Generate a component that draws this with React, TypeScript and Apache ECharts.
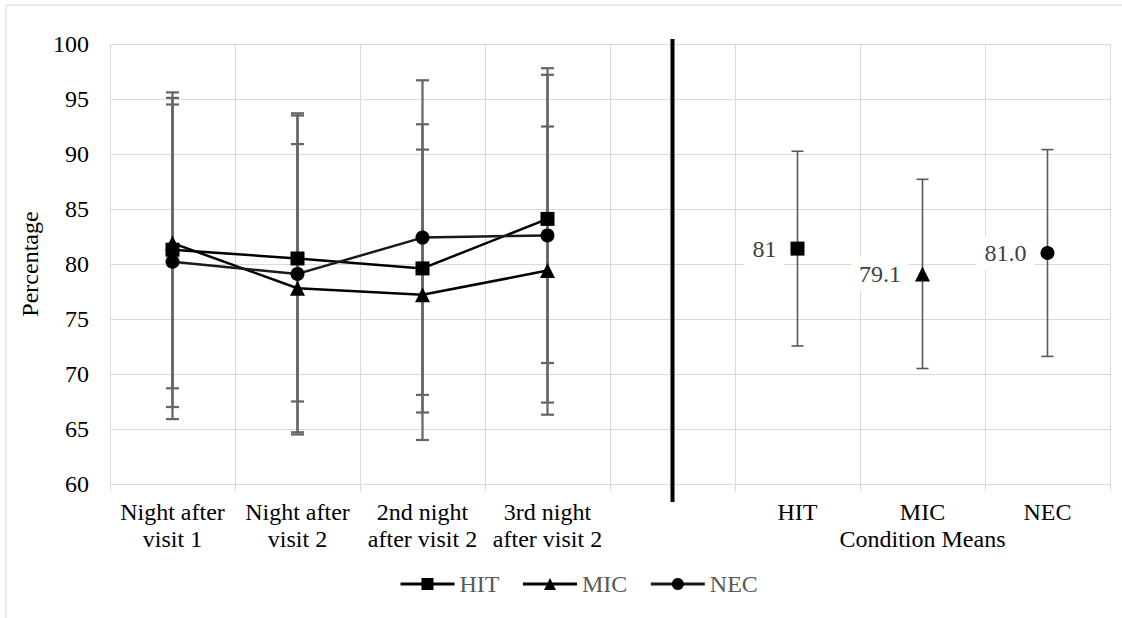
import React, { useEffect, useRef } from "react";
import * as echarts from "echarts";

// ---- data ----
const nightCategories = [
  "Night after\nvisit 1",
  "Night after\nvisit 2",
  "2nd night\nafter visit 2",
  "3rd night\nafter visit 2",
];
const conditionCategories = ["HIT", "MIC", "NEC"];
const seriesNames = ["HIT", "MIC", "NEC"];
const conditionAxisTitle = "Condition Means";

const hitNights = [81.3, 80.5, 79.6, 84.1];
const micNights = [81.9, 77.8, 77.2, 79.4];
const necNights = [80.2, 79.1, 82.4, 82.6];

const hitNightErr = [14.3, 13.0, 13.1, 13.1];
const micNightErr = [13.2, 13.1, 13.2, 13.1];
const necNightErr = [14.3, 14.6, 14.3, 15.2];

const conditionMeans = [81.4, 79.1, 81.0];
const conditionErr = [8.85, 8.6, 9.4];
const conditionLabels = ["81", "79.1", "81.0"];

const yTicks = [60, 65, 70, 75, 80, 85, 90, 95, 100];

const FONT = "'Liberation Serif', 'Times New Roman', serif";

export default function App() {
  const ref = useRef<HTMLDivElement>(null);

  useEffect(() => {
    if (!ref.current) return;
    const chart = echarts.init(ref.current, undefined, { renderer: "svg" });

    const categories = [...nightCategories, "", ...conditionCategories];
    const dividerIdx = nightCategories.length;
    const nights = [hitNights, micNights, necNights];
    const nightErrs = [hitNightErr, micNightErr, necNightErr];
    const symbols = ["rect", "triangle", "circle"];
    const symbolSizes = [14, 15, 14];
    const lineColors = ["#000000", "#000000", "#1a1a1a"];

    const lineSeries = seriesNames.map((name, s) => {
      const data: any[] = categories.map(() => null);
      nights[s].forEach((v, i) => (data[i] = v));
      const ci = dividerIdx + 1 + conditionCategories.indexOf(name);
      data[ci] = {
        value: conditionMeans[s],
        label: {
          show: true,
          position: "left",
          distance: 6,
          formatter: conditionLabels[s],
          backgroundColor: "#ffffff",
          padding: [5, 8, 5, 8],
          color: "#404040",
          fontSize: 24,
          fontFamily: FONT,
        },
      };
      return {
        name,
        type: "line",
        data,
        z: 5,
        symbol: symbols[s],
        symbolSize: symbolSizes[s],
        showSymbol: true,
        showAllSymbol: true,
        connectNulls: false,
        lineStyle: { color: lineColors[s], width: 2.5 },
        itemStyle: { color: "#000000" },
        emphasis: { disabled: true },
      };
    });

    const leftErrData: number[][] = [];
    nights.forEach((arr, s) =>
      arr.forEach((v, i) => leftErrData.push([i, v - nightErrs[s][i], v + nightErrs[s][i]]))
    );
    const rightErrData: number[][] = conditionMeans.map((m, k) => [
      dividerIdx + 1 + k,
      m - conditionErr[k],
      m + conditionErr[k],
    ]);

    const makeErr = (data: number[][], lw: number, color: string, hw: number) => ({
      type: "custom",
      z: 2,
      silent: true,
      encode: { x: 0, y: [1, 2] },
      data,
      renderItem: (params: any, api: any) => {
        const x = api.value(0);
        const lo = api.coord([x, api.value(1)]);
        const hi = api.coord([x, api.value(2)]);
        const style = { stroke: color, lineWidth: lw };
        return {
          type: "group",
          children: [
            { type: "line", shape: { x1: lo[0], y1: lo[1], x2: hi[0], y2: hi[1] }, style },
            { type: "line", shape: { x1: lo[0] - hw, y1: lo[1], x2: lo[0] + hw, y2: lo[1] }, style },
            { type: "line", shape: { x1: hi[0] - hw, y1: hi[1], x2: hi[0] + hw, y2: hi[1] }, style },
          ],
        };
      },
    });

    const dividerSeries = {
      type: "custom",
      z: 3,
      silent: true,
      clip: false,
      encode: { x: 0, y: 1 },
      data: [[dividerIdx, yTicks[yTicks.length - 1], yTicks[0]]],
      renderItem: (params: any, api: any) => {
        const x = api.value(0);
        const top = api.coord([x, api.value(1)]);
        const bot = api.coord([x, api.value(2)]);
        return {
          type: "line",
          shape: { x1: top[0], y1: top[1] - 5, x2: bot[0], y2: bot[1] + 18 },
          style: { stroke: "#000000", lineWidth: 4 },
        };
      },
    };

    chart.setOption({
      animation: false,
      backgroundColor: "#ffffff",
      textStyle: { fontFamily: FONT },
      graphic: [
        {
          type: "rect",
          shape: { x: 6, y: 5, width: 1120, height: 640 },
          style: { fill: "none", stroke: "#d9d9d9", lineWidth: 1 },
          silent: true,
        },
      ],
      grid: { left: 110, right: 12, top: 44, bottom: 134 },
      legend: {
        data: seriesNames,
        left: 394,
        top: 567,
        itemGap: 22,
        itemWidth: 54,
        itemHeight: 15,
        lineStyle: { width: 3 },
        textStyle: { fontSize: 24, color: "#595959", fontFamily: FONT },
      },
      xAxis: {
        type: "category",
        data: categories,
        boundaryGap: true,
        axisLine: { show: true, lineStyle: { color: "#d9d9d9", width: 1 } },
        axisTick: { show: true, length: 7, interval: 0, lineStyle: { color: "#d9d9d9" } },
        splitLine: { show: true, interval: 0, lineStyle: { color: "#d9d9d9", width: 1 } },
        axisLabel: {
          interval: 0,
          margin: 14,
          fontSize: 24,
          lineHeight: 27,
          color: "#000000",
          fontFamily: FONT,
          formatter: (v: string) => (v === "MIC" ? v + "\n" + conditionAxisTitle : v),
        },
      },
      yAxis: {
        type: "value",
        min: yTicks[0],
        max: yTicks[yTicks.length - 1],
        interval: 5,
        name: "Percentage",
        nameLocation: "middle",
        nameGap: 66,
        nameTextStyle: { fontSize: 24, color: "#000000", fontFamily: FONT },
        axisLine: { show: false },
        axisTick: { show: false },
        splitLine: { show: true, lineStyle: { color: "#d9d9d9", width: 1 } },
        axisLabel: { margin: 21, fontSize: 24, color: "#000000", fontFamily: FONT },
      },
      series: [
        makeErr(leftErrData, 2.25, "#666666", 6.5),
        makeErr(rightErrData, 1.6, "#595959", 6),
        dividerSeries,
        ...lineSeries,
      ],
    });

    return () => chart.dispose();
  }, []);

  return (
    <div
      ref={ref}
      style={{ position: "absolute", left: 0, top: 0, width: 1122, height: 618, background: "#fff" }}
    />
  );
}
